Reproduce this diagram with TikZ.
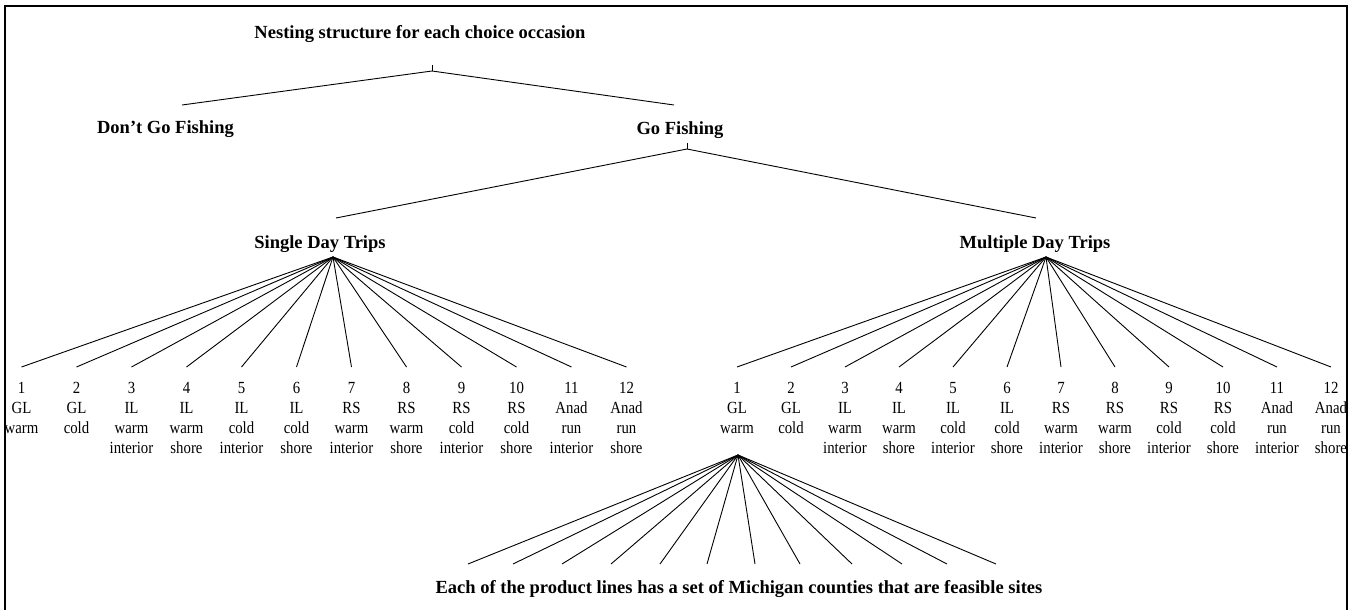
\documentclass[tikz,border=0pt]{standalone}
\usepackage{fontspec}
\setmainfont{Liberation Serif}
\newfontfamily\leaffont[FakeStretch=0.87]{Liberation Serif}
\begin{document}
\begin{tikzpicture}[x=1pt,y=-1pt,line width=0.9pt,
  head/.style={font=\bfseries\fontsize{18.5}{20}\selectfont,inner sep=0pt,anchor=base},
  leaf/.style={font=\leaffont\fontsize{17}{20}\selectfont,align=center,inner sep=0pt,outer xsep=0pt,outer ysep=15pt,anchor=north},
  link/.style={draw,line width=0.9pt},
  frame/.style={draw,line width=1.2pt}]
\useasboundingbox (0,0) rectangle (1355,610);
\draw[frame] (5,612) -- (5,6) -- (1347,6) -- (1347,612);

% level 0
\node[head] (title) at (420,39) {Nesting structure for each choice occasion};
\coordinate (t0) at (432,65);
\coordinate (t1) at (432,71);
\draw[link] (t0) -- (t1);

% level 1
\node[head] (dgf) at (165.5,133) {Don’t Go Fishing};
\coordinate (dgfin) at (182,105);
\node[head] (gf) at (680,134) {Go Fishing};
\coordinate (gfin) at (674,105);
\draw[link] (t1) -- (dgfin);
\draw[link] (t1) -- (gfin);
\coordinate (g0) at (687,143);
\coordinate (g1) at (687,149);
\draw[link] (g0) -- (g1);

% level 2
\node[head] (sdt) at (320,248) {Single Day Trips};
\coordinate (sdtin) at (336,218);
\coordinate (sdtout) at (333,257);
\node[head] (mdt) at (1035,248) {Multiple Day Trips};
\coordinate (mdtin) at (1036,218);
\coordinate (mdtout) at (1046,257);
\draw[link] (g1) -- (sdtin);
\draw[link] (g1) -- (mdtin);

% level 3 (product lines)
\foreach \i/\lab [evaluate=\i as \xs using 21.5+55*(\i-1),
                  evaluate=\i as \xm using 737+54*(\i-1)] in
  {1/{GL\\warm},2/{GL\\cold},3/{IL\\warm\\interior},4/{IL\\warm\\shore},
   5/{IL\\cold\\interior},6/{IL\\cold\\shore},7/{RS\\warm\\interior},
   8/{RS\\warm\\shore},9/{RS\\cold\\interior},10/{RS\\cold\\shore},
   11/{Anad\\run\\interior},12/{Anad\\run\\shore}} {
  \node[leaf] (s\i) at (\xs,367) {\i\\\lab};
  \node[leaf] (m\i) at (\xm,367) {\i\\\lab};
  \draw[link] (sdtout) -- (s\i.north);
  \draw[link] (mdtout) -- (m\i.north);
}

% level 4 (sites)
\node[head] (sites) at (739,593) {Each of the product lines has a set of Michigan counties that are feasible sites};
\coordinate (m1out) at (738,455);
\foreach \x [count=\k] in {468,513,562,611,660,707,755,800,852,902,947,996} {
  \coordinate (b\k) at (\x,564);
  \draw[link] (m1out) -- (b\k);
}
\end{tikzpicture}
\end{document}
